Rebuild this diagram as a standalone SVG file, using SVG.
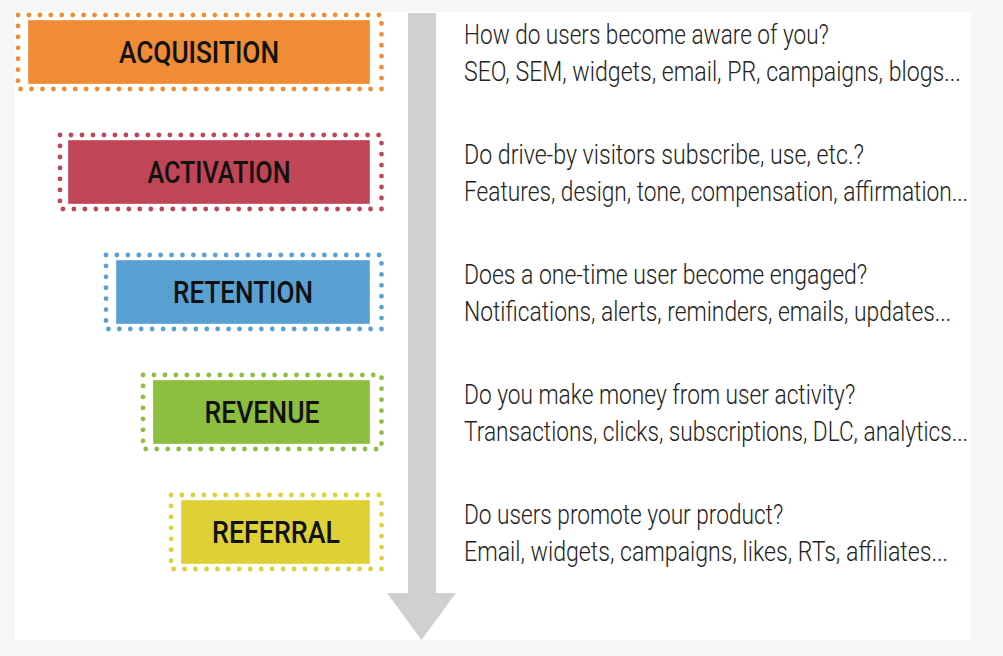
<svg xmlns="http://www.w3.org/2000/svg" width="1003" height="656" viewBox="0 0 1003 656">
  <style>
    .dots { fill: none; stroke-width: 4.8; stroke-linecap: round; }
    .box { stroke: #ffffff; stroke-opacity: 0.35; stroke-width: 1; }
    .label { font-family: Roboto, "Liberation Sans", sans-serif; font-weight: 500; font-size: 31.5px; fill: #111111; text-anchor: middle; }
    .desc { font-family: Roboto, "Liberation Sans", sans-serif; font-weight: 300; font-size: 27.5px; fill: #222222; }
    .arrow { fill: #d0d0d0; }
  </style>
  <rect x="0" y="0" width="1003" height="656" fill="#f6f6f6"/>
  <rect x="15" y="12" width="956" height="628" fill="#ffffff"/>

  <g id="connectors">
    <rect class="arrow" x="408" y="13" width="28" height="581"/>
    <polygon class="arrow" points="387,593 456,593 421.5,640"/>
  </g>

  <g id="acquisition">
    <rect class="dots" x="18" y="15" width="363.5" height="74" stroke="#ef8c34" stroke-dasharray="0 10.9375" stroke-dashoffset="-10.9375"/>
    <rect class="box" x="28" y="20" width="342" height="64" fill="#ef8c34"/>
    <text class="label" x="199" y="62.5" textLength="160" lengthAdjust="spacingAndGlyphs">ACQUISITION</text>
  </g>
  <g id="activation">
    <rect class="dots" x="60" y="135" width="321.5" height="74" stroke="#bf4557" stroke-dasharray="0 10.986" stroke-dashoffset="-10.986"/>
    <rect class="box" x="68" y="140" width="302" height="64" fill="#bf4557"/>
    <text class="label" x="219" y="182.5" textLength="143" lengthAdjust="spacingAndGlyphs">ACTIVATION</text>
  </g>
  <g id="retention">
    <rect class="dots" x="106" y="255" width="275.5" height="74" stroke="#5aa1d3" stroke-dasharray="0 10.922" stroke-dashoffset="-10.922"/>
    <rect class="box" x="116" y="260" width="254" height="64" fill="#5aa1d3"/>
    <text class="label" x="243" y="302.5" textLength="140" lengthAdjust="spacingAndGlyphs">RETENTION</text>
  </g>
  <g id="revenue">
    <rect class="dots" x="143" y="375" width="238.5" height="74" stroke="#8cbe3f" stroke-dasharray="0 10.965" stroke-dashoffset="-10.965"/>
    <rect class="box" x="153" y="380" width="217" height="64" fill="#8cbe3f"/>
    <text class="label" x="262" y="422.5" textLength="115" lengthAdjust="spacingAndGlyphs">REVENUE</text>
  </g>
  <g id="referral">
    <rect class="dots" x="171" y="495" width="210.5" height="74" stroke="#ddd135" stroke-dasharray="0 10.942" stroke-dashoffset="-10.942"/>
    <rect class="box" x="181" y="500" width="189" height="64" fill="#ddd135"/>
    <text class="label" x="276" y="542.5" textLength="128" lengthAdjust="spacingAndGlyphs">REFERRAL</text>
  </g>

  <g id="descriptions">
    <text class="desc" transform="translate(464 44.3) scale(0.8 1)" x="0" y="0" textLength="456" lengthAdjust="spacingAndGlyphs">How do users become aware of you?</text>
    <text class="desc" transform="translate(464 80.7) scale(0.8 1)" x="0" y="0" textLength="621" lengthAdjust="spacingAndGlyphs">SEO, SEM, widgets, email, PR, campaigns, blogs...</text>
    <text class="desc" transform="translate(464 164.3) scale(0.8 1)" x="0" y="0" textLength="500" lengthAdjust="spacingAndGlyphs">Do drive-by visitors subscribe, use, etc.?</text>
    <text class="desc" transform="translate(464 200.7) scale(0.8 1)" x="0" y="0" textLength="630" lengthAdjust="spacingAndGlyphs">Features, design, tone, compensation, affirmation...</text>
    <text class="desc" transform="translate(464 284.3) scale(0.8 1)" x="0" y="0" textLength="504" lengthAdjust="spacingAndGlyphs">Does a one-time user become engaged?</text>
    <text class="desc" transform="translate(464 320.7) scale(0.8 1)" x="0" y="0" textLength="609" lengthAdjust="spacingAndGlyphs">Notifications, alerts, reminders, emails, updates...</text>
    <text class="desc" transform="translate(464 404.3) scale(0.8 1)" x="0" y="0" textLength="489" lengthAdjust="spacingAndGlyphs">Do you make money from user activity?</text>
    <text class="desc" transform="translate(464 440.7) scale(0.8 1)" x="0" y="0" textLength="630" lengthAdjust="spacingAndGlyphs">Transactions, clicks, subscriptions, DLC, analytics...</text>
    <text class="desc" transform="translate(464 524.3) scale(0.8 1)" x="0" y="0" textLength="399" lengthAdjust="spacingAndGlyphs">Do users promote your product?</text>
    <text class="desc" transform="translate(464 560.7) scale(0.8 1)" x="0" y="0" textLength="605" lengthAdjust="spacingAndGlyphs">Email, widgets, campaigns, likes, RTs, affiliates...</text>
  </g>
</svg>
